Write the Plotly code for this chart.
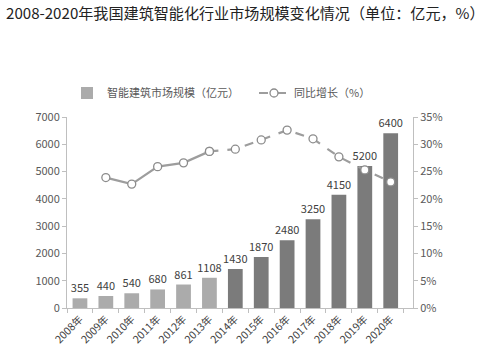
import plotly.graph_objects as go

years = ["2008年", "2009年", "2010年", "2011年", "2012年", "2013年", "2014年",
         "2015年", "2016年", "2017年", "2018年", "2019年", "2020年"]
market_size = [355, 440, 540, 680, 861, 1108, 1430, 1870, 2480, 3250, 4150, 5200, 6400]
growth_actual_years = ["2009年", "2010年", "2011年", "2012年", "2013年"]
growth_actual = [23.9, 22.7, 25.9, 26.6, 28.7]
growth_fcst_years = ["2013年", "2014年", "2015年", "2016年", "2017年", "2018年", "2019年", "2020年"]
growth_fcst = [28.7, 29.1, 30.8, 32.6, 31.0, 27.7, 25.3, 23.1]

bar_colors = ["#ababab"] * 6 + ["#7b7b7b"] * 7

FONT = "Noto Sans CJK SC"
fig = go.Figure()
fig.add_trace(go.Bar(
    x=years, y=market_size, name="智能建筑市场规模（亿元）",
    marker=dict(color=bar_colors, line=dict(width=0)),
    text=[str(v) for v in market_size], textposition="outside",
    textfont=dict(size=11, color="#404040", family=FONT),
    constraintext="none",
    cliponaxis=False, legend="legend",
))
fig.add_trace(go.Scatter(
    x=growth_actual_years, y=[g / 100 for g in growth_actual], yaxis="y2",
    mode="lines+markers", showlegend=False,
    line=dict(color="#9d9d9d", width=2.2),
    marker=dict(symbol="circle", size=8, color="white", line=dict(color="#8c8c8c", width=1.3)),
))
fig.add_trace(go.Scatter(
    x=growth_fcst_years, y=[g / 100 for g in growth_fcst], yaxis="y2",
    mode="lines+markers", name="同比增长（%）",
    line=dict(color="#9d9d9d", width=2.2, dash="dash"),
    marker=dict(symbol="circle", size=8, color="white", line=dict(color="#8c8c8c", width=1.3)),
    legend="legend2",
))

leg_common = dict(orientation="h", xref="container", xanchor="left",
                  y=1 - 93 / 364, yref="container", yanchor="middle",
                  font=dict(size=11, color="#595959", family=FONT),
                  bgcolor="rgba(0,0,0,0)", itemwidth=30)

fig.update_layout(
    width=499, height=364,
    margin=dict(l=67, r=86, t=117, b=56, autoexpand=False),
    paper_bgcolor="white", plot_bgcolor="white",
    font=dict(family=FONT, size=11, color="#595959"),
    title=dict(text="2008-2020年我国建筑智能化行业市场规模变化情况（单位：亿元，%）",
               x=6 / 499, xanchor="left", y=1 - 14 / 364, yanchor="middle",
               font=dict(size=15.1, color="#222222", family=FONT)),
    bargap=0.43,
    showlegend=True,
    legend=dict(x=67 / 499, **leg_common),
    legend2=dict(x=254 / 499, **leg_common),
    xaxis=dict(type="category", tickangle=-45, showline=True, linecolor="#bfbfbf",
               ticks="outside", tickson="boundaries", ticklen=4, tickcolor="#bfbfbf",
               tickfont=dict(size=10.5, color="#404040"), showgrid=False),
    yaxis=dict(range=[0, 7000], dtick=1000, showline=True, linecolor="#bfbfbf",
               ticks="outside", ticklen=4, tickcolor="#bfbfbf", showgrid=False,
               zeroline=False, tickfont=dict(size=11, color="#595959")),
    yaxis2=dict(range=[0, 0.35], dtick=0.05, tickformat=".0%", overlaying="y", side="right",
                showline=True, linecolor="#bfbfbf", ticks="outside", ticklen=4,
                tickcolor="#bfbfbf", showgrid=False, zeroline=False,
                tickfont=dict(size=11, color="#595959")),
)

fig.write_html("out.html", config={"displayModeBar": False},
               post_script="document.body.style.margin='0';")
